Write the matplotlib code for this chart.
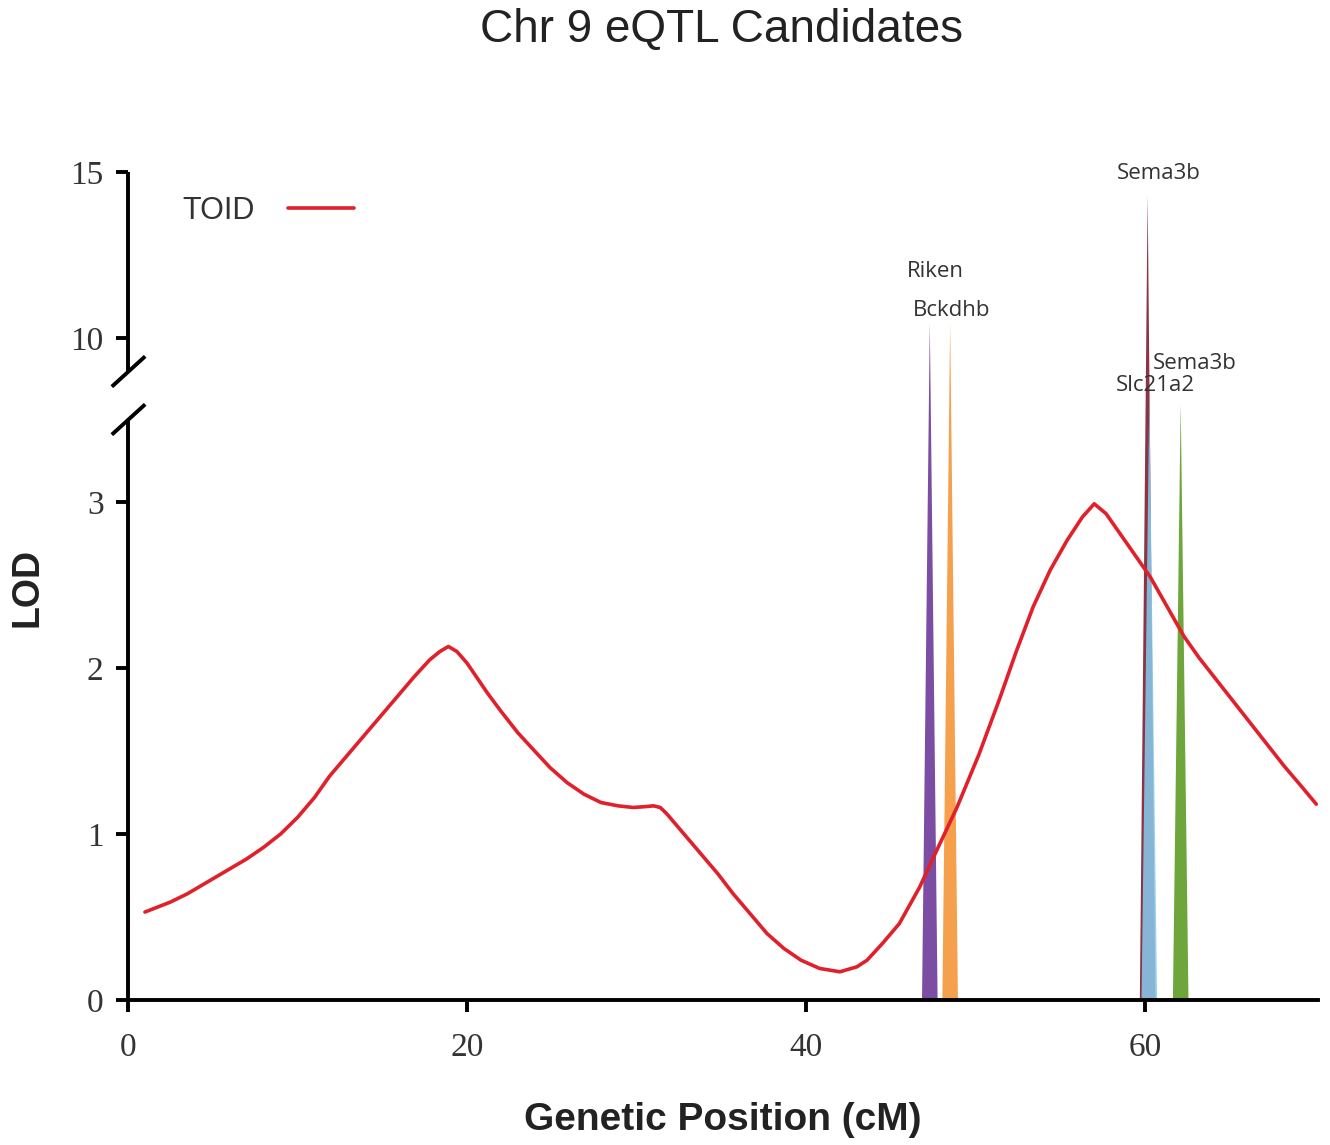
import numpy as np
import matplotlib
matplotlib.use("Agg")
import matplotlib.pyplot as plt
from matplotlib.path import Path

# ---------------- data ----------------
title = "Chr 9 eQTL Candidates"
x_label = "Genetic Position (cM)"
y_label = "LOD"
series_name = "TOID"

lod_pos = [1.0, 2.5, 3.5, 5.0, 6.0, 7.0, 8.0, 9.0, 10.0, 11.0, 11.9, 12.9, 13.9,
           14.9, 15.9, 16.9, 17.8, 18.4, 18.9, 19.4, 20.0, 21.2,
           22.0, 23.0, 23.9, 24.9, 25.9, 26.9, 27.9, 28.9, 29.8, 30.5, 31.0, 31.4,
           31.8, 32.8, 33.8, 34.8, 35.7, 36.7, 37.7, 38.7,
           39.7, 40.8, 42.0, 43.0, 43.6, 44.5, 45.5, 46.7, 47.7, 48.9, 50.2, 51.4,
           52.4, 53.4, 54.4, 55.4, 56.3, 57.0, 57.7, 59.0, 60.3, 61.3, 62.3, 63.2,
           64.2, 65.2, 66.2, 67.2, 68.2, 69.2, 70.1]
lod_val = [0.53, 0.59, 0.64, 0.73, 0.79, 0.85, 0.92, 1.00, 1.10, 1.22, 1.35, 1.47,
           1.59, 1.71, 1.83, 1.95, 2.05, 2.10, 2.13, 2.10, 2.03, 1.85,
           1.74, 1.61, 1.51, 1.40, 1.31, 1.24, 1.19, 1.17, 1.16, 1.165, 1.17, 1.16,
           1.12, 1.00, 0.88, 0.76, 0.64, 0.52, 0.40, 0.31,
           0.24, 0.19, 0.17, 0.20, 0.24, 0.34, 0.46, 0.68, 0.90, 1.16, 1.48, 1.81,
           2.10, 2.37, 2.59, 2.77, 2.91, 2.99, 2.93, 2.74, 2.55, 2.37, 2.19, 2.06,
           1.93, 1.80, 1.67, 1.54, 1.41, 1.29, 1.18]

gene_names = ["Riken", "Bckdhb", "Sema3b", "Slc21a2", "Sema3b"]
gene_pos = [47.3, 48.5, 60.15, 60.25, 62.1]
gene_lod = [10.45, 10.45, 14.3, 6.0, 5.3]
gene_colors = ["#7b4ea3", "#f5a04c", "#8a3446", "#86cdef", "#6ea63c"]
gene_alpha = [1.0, 1.0, 1.0, 0.85, 1.0]
label_x = [47.6, 48.6, 60.8, 60.6, 62.95]
label_y = [12.0, 10.84, 14.96, 7.4, 9.24]

x_ticks = [0, 20, 40, 60]
y_ticks = [0, 1, 2, 3, 10, 15]
y_break_low, y_break_high = 3.5, 9.0

# ---------------- broken-axis scale ----------------
def fwd(y):
    y = np.asarray(y, dtype=float)
    return np.where(y <= 3.5, 166.0 * y,
                    np.where(y <= 9.0, 581.0 + (y - 3.5) * 48.0 / 5.5,
                             629.0 + (y - 9.0) * 33.2))

def inv(s):
    s = np.asarray(s, dtype=float)
    return np.where(s <= 581.0, s / 166.0,
                    np.where(s <= 629.0, 3.5 + (s - 581.0) * 5.5 / 48.0,
                             9.0 + (s - 629.0) / 33.2))

fig = plt.figure(figsize=(13.3, 11.45), dpi=100)
ax = fig.add_axes([128 / 1330, 145 / 1145, (1318 - 128) / 1330, (1000 - 172) / 1145])
ax.set_yscale("function", functions=(fwd, inv))
ax.set_xlim(0, 70.2)
ax.set_ylim(0, 15)

# ---------------- spikes (triangles: base on 0, apex at the LOD) ----------------
hw = 0.46
for i in range(len(gene_names)):
    xs = [gene_pos[i] - hw, gene_pos[i], gene_pos[i] + hw]
    ys = [0, gene_lod[i], 0]
    ax.fill(xs, ys, color=gene_colors[i], alpha=gene_alpha[i], lw=0, zorder=2)

for i in range(len(gene_names)):
    ax.text(label_x[i], label_y[i], gene_names[i], ha="center", va="center",
            fontsize=16, color="#333333", family=["Open Sans", "DejaVu Sans"], zorder=5)

# ---------------- LOD curve ----------------
ax.plot(lod_pos, lod_val, color="#e0202a", lw=2.6, zorder=4, label=series_name,
        solid_joinstyle="round", solid_capstyle="round")

# ---------------- axes styling ----------------
for s in ["top", "right", "left"]:
    ax.spines[s].set_visible(False)
ax.spines["bottom"].set_linewidth(2.8)

ytr = ax.get_yaxis_transform()
ax.plot([0, 0], [0, y_break_low], transform=ytr, color="black", lw=2.8,
        clip_on=False, solid_capstyle="butt", zorder=6)
ax.plot([0, 0], [y_break_high, 15], transform=ytr, color="black", lw=2.8,
        clip_on=False, solid_capstyle="butt", zorder=6)
brk = Path([(-1.0, -0.91), (1.0, 0.91)], [Path.MOVETO, Path.LINETO])
ax.plot([0, 0], [y_break_low + 0.02, y_break_high], transform=ytr, linestyle="none",
        marker=brk, markersize=24, markeredgewidth=2.8, markeredgecolor="black",
        markerfacecolor="none", clip_on=False, zorder=6)

ax.set_xticks(x_ticks)
ax.set_yticks(y_ticks)
ax.set_xticklabels([str(v) for v in x_ticks])
ax.set_yticklabels([str(v) for v in y_ticks])
ax.tick_params(axis="both", direction="out", width=2.8, length=8.5,
               labelsize=24, labelcolor="#333333")
ax.tick_params(axis="x", pad=15)
ax.tick_params(axis="y", pad=9)
for lab in ax.get_xticklabels() + ax.get_yticklabels():
    lab.set_family(["Liberation Serif", "DejaVu Serif"])

ax.set_xlabel(x_label, fontsize=28, fontweight="bold", family=["Liberation Sans", "DejaVu Sans"],
              color="#222222")
ax.xaxis.label.set_verticalalignment("center")
ax.xaxis.set_label_coords(0.5, (1000 - 1120) / 828)
ax.set_ylabel(y_label, fontsize=27, fontweight="bold", family=["Liberation Sans", "DejaVu Sans"],
              color="#222222")
ax.yaxis.label.set_verticalalignment("center")
ax.yaxis.label.set_horizontalalignment("center")
ax.yaxis.set_label_coords((28 - 128) / 1190, (1000 - 587) / 828)

fig.text(721 / 1330, 1 - 30 / 1145, title, ha="center", va="center", fontsize=33,
         color="#222222", family=["Liberation Sans", "DejaVu Sans"])

leg = ax.legend(loc="center left", bbox_to_anchor=(182 / 1330, 1 - 211 / 1145),
                bbox_transform=fig.transFigure, frameon=False, markerfirst=False,
                borderpad=0, borderaxespad=0, handlelength=2.15, handletextpad=1.1,
                prop={"family": ["Liberation Sans", "DejaVu Sans"], "size": 22})
for txt in leg.get_texts():
    txt.set_color("#333333")

fig.savefig("out.png", dpi=100)
